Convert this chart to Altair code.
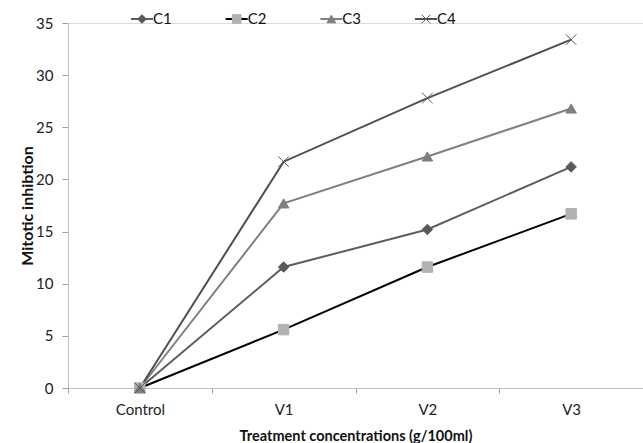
import altair as alt
import pandas as pd

categories = ["Control", "V1", "V2", "V3"]
series = ["C1", "C2", "C3", "C4"]
c1 = [0, 11.6, 15.2, 21.2]
c2 = [0, 5.6, 11.6, 16.7]
c3 = [0, 17.7, 22.2, 26.8]
c4 = [0, 21.7, 27.8, 33.4]

line_colors = ["#5e5e5e", "#000000", "#808080", "#4f4f4f"]
marker_colors = ["#595959", "#b2b2b2", "#7f7f7f", "#595959"]
shapes = ["diamond", "square", "triangle-up", "M-1,-1L1,1M-1,1L1,-1"]

rows = []
for s, vals in zip(series, [c1, c2, c3, c4]):
    for c, v in zip(categories, vals):
        rows.append({"Treatment": c, "Series": s, "Value": v})
df = pd.DataFrame(rows)
leg_df = pd.DataFrame({"Series": series})

FONT = "Lato"

x_enc = alt.X("Treatment:N", sort=categories,
              scale=alt.Scale(domain=categories, paddingInner=0, paddingOuter=0),
              axis=alt.Axis(title="Treatment concentrations (g/100ml)", labelAngle=0,
                            tickBand="extent", grid=False, domainColor="#bfbfbf",
                            tickColor="#a0a0a0", tickSize=5, labelPadding=9,
                            labelFontSize=15, labelColor="#222222", titleFontSize=14.5,
                            titleFontWeight="bold", titleColor="#111111", titlePadding=12,
                            labelFont=FONT, titleFont=FONT))
y_enc = alt.Y("Value:Q", scale=alt.Scale(domain=[0, 35], nice=False),
              axis=alt.Axis(title="Mitotic inhibtion", values=list(range(0, 36, 5)),
                            grid=False, domainColor="#bfbfbf", tickColor="#a0a0a0",
                            tickSize=6, labelPadding=9, labelFontSize=15,
                            labelColor="#222222", titleFontSize=16, titleFontWeight="bold",
                            titleColor="#111111", titlePadding=0,
                            labelFont=FONT, titleFont=FONT))

stroke_scale = alt.Scale(domain=series, range=line_colors)
fill_scale = alt.Scale(domain=series, range=marker_colors)
shape_scale = alt.Scale(domain=series, range=shapes)

lines = alt.Chart(df).mark_line(strokeWidth=2).encode(
    x=x_enc, y=y_enc,
    stroke=alt.Stroke("Series:N", scale=stroke_scale, legend=None),
    detail="Series:N",
)

points = alt.Chart(df).mark_point(filled=True, opacity=1, size=110, strokeWidth=1).encode(
    x=x_enc, y=y_enc,
    shape=alt.Shape("Series:N", scale=shape_scale, legend=None),
    fill=alt.Fill("Series:N", scale=fill_scale, legend=None),
    stroke=alt.Stroke("Series:N", scale=fill_scale, legend=None),
)

main = alt.layer(lines, points).resolve_scale(stroke="independent")

lx = alt.X("Series:N", scale=alt.Scale(type="point", domain=series, range=[74, 358], padding=0),
           axis=None)

leg_seg = alt.Chart(leg_df).mark_tick(orient="horizontal", size=22, thickness=2, opacity=1).encode(
    x=lx, y=alt.value(-4),
    color=alt.Color("Series:N", scale=stroke_scale, legend=None),
)
leg_pt = alt.Chart(leg_df).mark_point(filled=True, opacity=1, size=75, strokeWidth=1).encode(
    x=lx, y=alt.value(-4),
    shape=alt.Shape("Series:N", scale=shape_scale, legend=None),
    fill=alt.Fill("Series:N", scale=fill_scale, legend=None),
    stroke=alt.Stroke("Series:N", scale=fill_scale, legend=None),
)
leg_txt = alt.Chart(leg_df).mark_text(align="left", baseline="middle", dx=11, fontSize=15,
                                      font=FONT, color="#111111").encode(
    x=lx, y=alt.value(-4), text="Series:N",
)
legend = alt.layer(leg_seg, leg_pt, leg_txt)

chart = alt.layer(main, legend).resolve_scale(x="independent").properties(
    width=575, height=365,
    autosize=alt.AutoSizeParams(type="none"),
    padding={"left": 68, "top": 23, "right": 0, "bottom": 55},
).configure_view(stroke=None).configure(background="white")

chart.save("out.html", embed_options={"renderer": "svg", "actions": False})
